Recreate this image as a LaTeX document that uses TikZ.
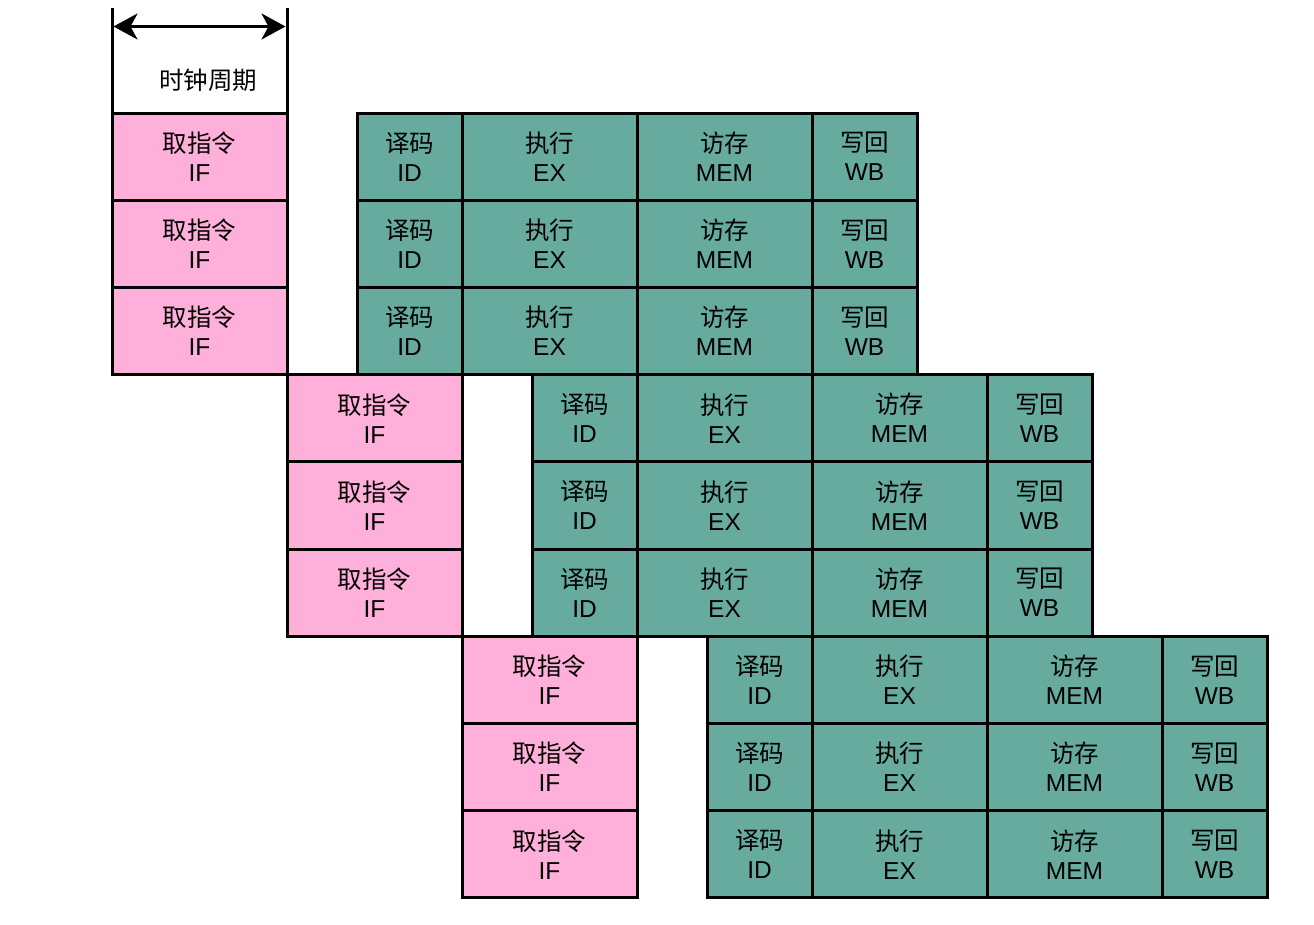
\documentclass[tikz,border=0pt]{standalone}
\usepackage{fontspec}
\setmainfont{Liberation Sans}
\newfontfamily\cjk{Noto Sans CJK SC}
\usetikzlibrary{arrows.meta}
\definecolor{pinkf}{HTML}{FFB0DA}
\definecolor{greenf}{HTML}{67AB9F}
\tikzset{
  stage/.style={draw=black, line width=3pt, rectangle, inner sep=0pt, outer sep=0pt, align=center,
    minimum height=87.2pt, anchor=north west, font=\fontsize{24.5}{29}\selectfont},
  ifbox/.style={stage, fill=pinkf, minimum width=175pt},
  shortbox/.style={stage, fill=greenf, minimum width=105pt},
  longbox/.style={stage, fill=greenf, minimum width=175pt},
  clockarrow/.style={line width=3pt, {Stealth[length=24pt,width=26pt,inset=7pt]}-{Stealth[length=24pt,width=26pt,inset=7pt]}},
}
\begin{document}
\begin{tikzpicture}[x=1pt,y=-1pt]
\useasboundingbox (0,0) rectangle (1314,924);
\foreach \b in {0,1,2}{
  \foreach \r in {0,1,2}{
    \pgfmathsetmacro{\xo}{175*\b}
    \pgfmathsetmacro{\yo}{113+261.6*\b+87.2*\r}
    \node[ifbox] (if-\b-\r) at (112+\xo,\yo) {{\cjk 取指令}\\IF};
    \node[shortbox] (id-\b-\r) at (357+\xo,\yo) {{\cjk 译码}\\ID};
    \node[longbox] (ex-\b-\r) at (462+\xo,\yo) {{\cjk 执行}\\EX};
    \node[longbox] (mem-\b-\r) at (637+\xo,\yo) {{\cjk 访存}\\MEM};
    \node[shortbox] (wb-\b-\r) at (812+\xo,\yo) {{\cjk 写回}\\WB};
  }
}
\coordinate (lt) at (112,8);
\coordinate (rt) at (287,8);
\draw[line width=3pt] (lt) -- (if-0-0.north west);
\draw[line width=3pt] (rt) -- (if-0-0.north east);
\coordinate (al) at (113.5,26.5);
\coordinate (ar) at (285.5,26.5);
\draw[clockarrow] (al) -- (ar);
\node[font=\cjk\fontsize{24.5}{29}\selectfont] (clk) at (208,80) {时钟周期};
\end{tikzpicture}
\end{document}
